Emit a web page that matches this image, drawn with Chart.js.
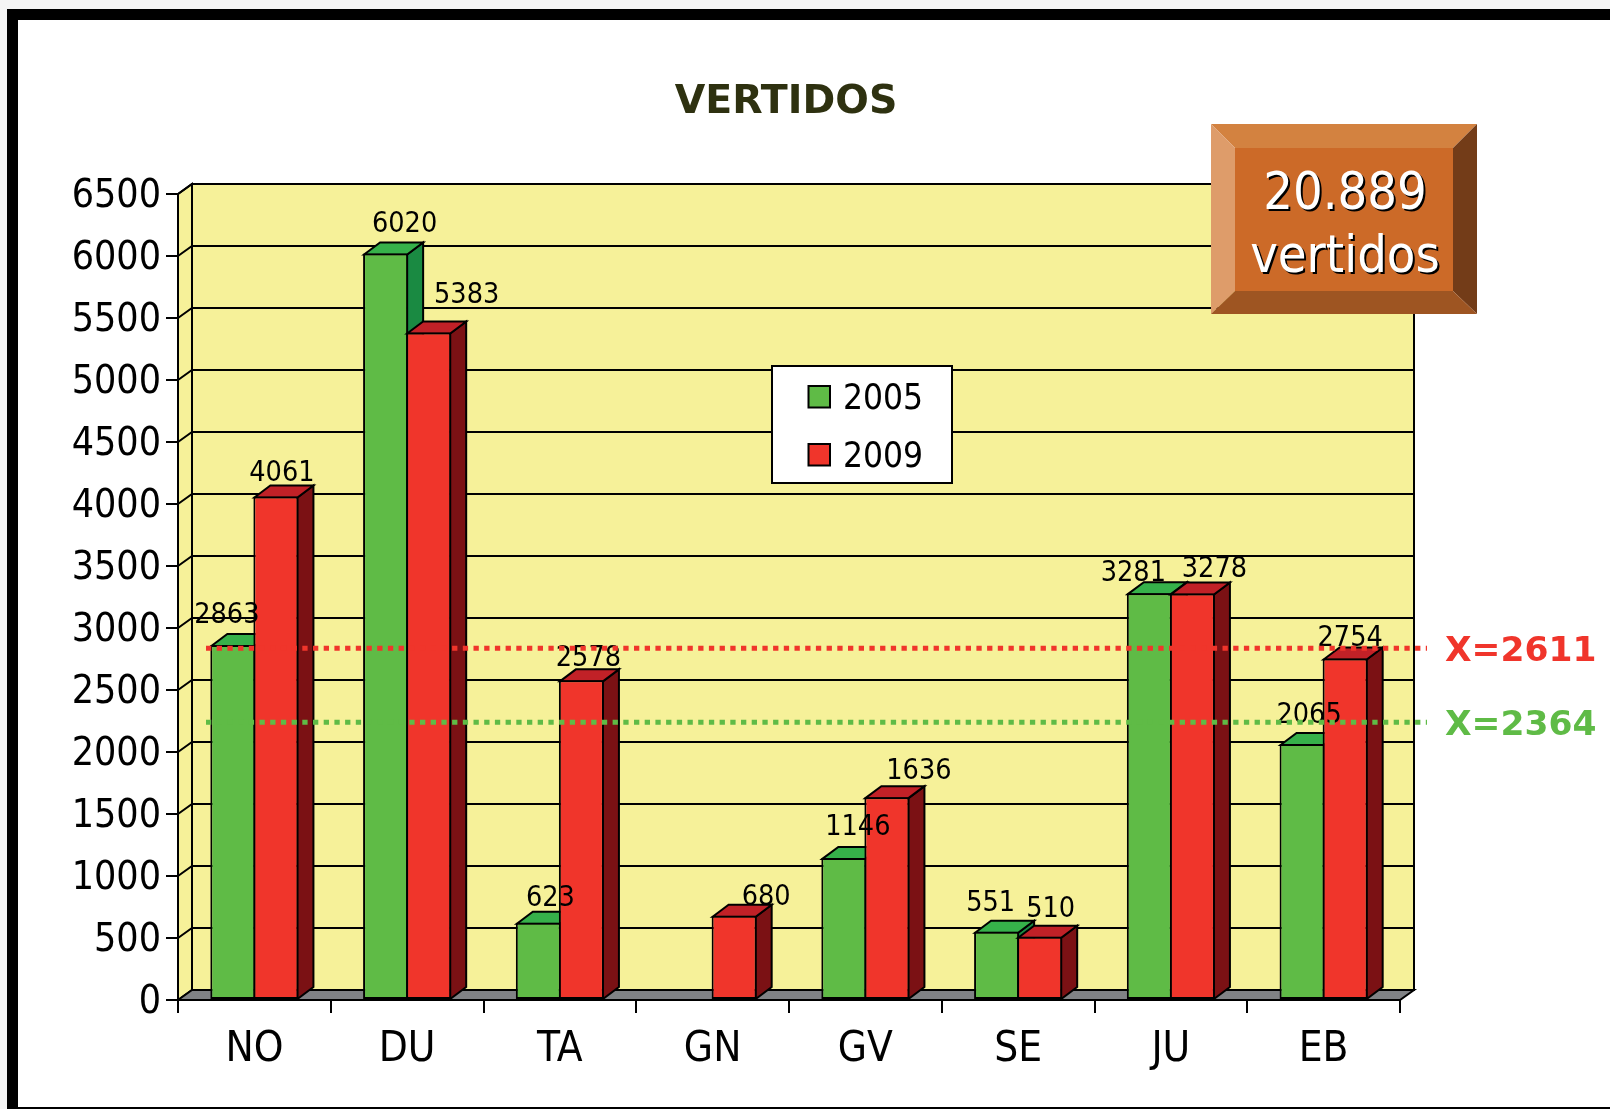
<!DOCTYPE html>
<html lang="es">
<head>
    <meta charset="UTF-8">
    <title>Vertidos</title>
    <script src="https://cdn.jsdelivr.net/npm/chart.js"></script>
    <style>
        html, body { margin: 0; height: 100%; overflow: hidden; background: #f5f5f5; }
        #frame { position: absolute; left: 7px; top: 9px; right: 0; bottom: 0; background: #fff;
                 border-left: 11px solid #000; border-top: 11px solid #000; border-bottom: 2px solid #000; }
        #vertidosChart { position: absolute; left: 0; top: 0; }
    </style>
</head>
<body>
    <div id="frame"></div>
    <canvas id="vertidosChart" width="1610" height="1109"></canvas>

    <script>
        const categories = ['NO', 'DU', 'TA', 'GN', 'GV', 'SE', 'JU', 'EB'];
        const values2005 = [2863, 6020, 623, null, 1146, 551, 3281, 2065];
        const values2009 = [4061, 5383, 2578, 680, 1636, 510, 3278, 2754];

        // dotted lines: where they sit on the value axis, and the text printed next to them
        const lineLevels = [2837, 2240];
        const lineTexts = ['X=2611', 'X=2364'];

        const badgeLines = ['20.889', 'vertidos'];

        // the original places value labels by hand, offsets from the bar top
        const labelDx = [
            [-6, 19, 12, 0, 14, -6, -16, 7],
            [6, 38, 7, 32, 32, 11, 22, 5]
        ];
        const labelAbove = [
            [22, 22, 17, 0, 23, 21, 12, 21],
            [15, 30, 14, 11, 18, 20, 17, 13]
        ];

        const GREEN = '#5fbb46', GREEN_TOP = '#36b14a', GREEN_SIDE = '#1a8a42';
        const RED = '#f0352b', RED_TOP = '#c12127', RED_SIDE = '#7b1114';
        const WALL = '#f6f199', FLOOR = '#808285';
        const BOX_DX = 14, BOX_DY = 10, BAR_DX = 16, BAR_DY = 12;
        const TAHOMA_LIKE = '"DejaVu Sans Condensed", "DejaVu Sans", sans-serif';

        function poly(ctx, pts, fill) {
            ctx.beginPath();
            pts.forEach((p, i) => i ? ctx.lineTo(p[0], p[1]) : ctx.moveTo(p[0], p[1]));
            ctx.closePath();
            if (fill) { ctx.fillStyle = fill; ctx.fill(); }
            ctx.stroke();
        }

        // walls, floor and the back grid of the fake 3D box
        function drawBox(chart) {
            const ctx = chart.ctx, a = chart.chartArea, y = chart.scales.y;
            const DX = BOX_DX, DY = BOX_DY;
            ctx.strokeStyle = '#000';
            ctx.lineWidth = 2;
            poly(ctx, [[a.left + DX, a.top - DY], [a.right + DX, a.top - DY], [a.right + DX, a.bottom - DY], [a.left + DX, a.bottom - DY]], WALL);
            poly(ctx, [[a.left, a.top], [a.left + DX, a.top - DY], [a.left + DX, a.bottom - DY], [a.left, a.bottom]], WALL);
            poly(ctx, [[a.left, a.bottom], [a.left + DX, a.bottom - DY], [a.right + DX, a.bottom - DY], [a.right, a.bottom]], FLOOR);
            y.ticks.forEach(t => {
                const py = y.getPixelForValue(t.value);
                if (t.value === 0) return;
                ctx.beginPath();
                ctx.moveTo(a.left, py);
                ctx.lineTo(a.left + DX, py - DY);
                ctx.lineTo(a.right + DX, py - DY);
                ctx.stroke();
            });
        }

        function drawDepth(chart, index, topColor, sideColor) {
            const ctx = chart.ctx, values = chart.data.datasets[index].data;
            ctx.strokeStyle = '#000';
            ctx.lineWidth = 2;
            chart.getDatasetMeta(index).data.forEach((bar, i) => {
                if (values[i] === null) return;
                const l = bar.x - bar.width / 2 + 1, r = bar.x + bar.width / 2 - 1;
                const t = bar.y + 1, b = bar.base;
                poly(ctx, [[r, t], [r + BAR_DX, t - BAR_DY], [r + BAR_DX, b - BAR_DY], [r, b]], sideColor);
                poly(ctx, [[l, t], [l + BAR_DX, t - BAR_DY], [r + BAR_DX, t - BAR_DY], [r, t]], topColor);
            });
        }

        function drawValueLabels(chart) {
            const ctx = chart.ctx;
            ctx.font = '28.5px ' + TAHOMA_LIKE;
            ctx.fillStyle = '#000';
            ctx.textAlign = 'center';
            ctx.textBaseline = 'alphabetic';
            chart.data.datasets.forEach((ds, d) => {
                chart.getDatasetMeta(d).data.forEach((bar, i) => {
                    if (ds.data[i] === null) return;
                    ctx.fillText(ds.data[i], bar.x + labelDx[d][i], bar.y - labelAbove[d][i]);
                });
            });
        }

        function drawDottedLines(chart) {
            const ctx = chart.ctx, a = chart.chartArea, y = chart.scales.y;
            const colors = [RED, GREEN];
            lineLevels.forEach((level, i) => {
                const py = y.getPixelForValue(level);
                ctx.save();
                ctx.strokeStyle = colors[i];
                ctx.lineWidth = 5;
                ctx.setLineDash([5.3, 5.4]);
                ctx.beginPath();
                ctx.moveTo(a.left + 28, py);
                ctx.lineTo(a.right + 27, py);
                ctx.stroke();
                ctx.restore();
                ctx.font = 'bold 34.5px "DejaVu Sans", sans-serif';
                ctx.fillStyle = colors[i];
                ctx.textAlign = 'left';
                ctx.textBaseline = 'alphabetic';
                ctx.fillText(lineTexts[i], 1445, py + 13);
            });
        }

        function drawLegend(chart) {
            const ctx = chart.ctx;
            ctx.strokeStyle = '#000';
            ctx.lineWidth = 2;
            ctx.fillStyle = '#fff';
            ctx.fillRect(772, 366, 180, 117);
            ctx.strokeRect(772, 366, 180, 117);
            ctx.font = '35px ' + TAHOMA_LIKE;
            ctx.textAlign = 'left';
            ctx.textBaseline = 'alphabetic';
            chart.data.datasets.forEach((ds, i) => {
                const top = 386 + i * 58;
                ctx.fillStyle = ds.backgroundColor;
                ctx.fillRect(808.5, top, 21.5, 21.5);
                ctx.strokeRect(808.5, top, 21.5, 21.5);
                ctx.fillStyle = '#000';
                ctx.fillText(ds.label, 843, top + 23);
            });
        }

        function drawBadge(chart) {
            const ctx = chart.ctx;
            const l = 1211, r = 1477, t = 124, b = 314, il = 1235, ir = 1453, it = 148, ib = 291;
            ctx.save();
            ctx.lineWidth = 0;
            ctx.strokeStyle = 'transparent';
            poly(ctx, [[l, t], [r, t], [ir, it], [il, it]], '#d38240');
            poly(ctx, [[l, t], [il, it], [il, ib], [l, b]], '#de9c6a');
            poly(ctx, [[r, t], [r, b], [ir, ib], [ir, it]], '#733c18');
            poly(ctx, [[l, b], [il, ib], [ir, ib], [r, b]], '#9e5522');
            ctx.fillStyle = '#cc6a28';
            ctx.fillRect(il, it, ir - il, ib - it);
            ctx.font = '52px ' + TAHOMA_LIKE;
            ctx.fillStyle = '#fff';
            ctx.textAlign = 'center';
            ctx.textBaseline = 'alphabetic';
            ctx.shadowColor = '#000';
            ctx.shadowOffsetX = 2;
            ctx.shadowOffsetY = 2;
            ctx.fillText(badgeLines[0], 1345, 209);
            ctx.fillText(badgeLines[1], 1345, 272);
            ctx.restore();
        }

        const box3d = {
            id: 'box3d',
            afterLayout(chart) {
                // title sits a little left of the plot centre in the original
                chart.titleBlock.left -= 3;
                chart.titleBlock.right -= 3;
            },
            beforeDatasetsDraw(chart) {
                drawBox(chart);
                // green goes first so the red front covers its side face
                drawDepth(chart, 0, GREEN_TOP, GREEN_SIDE);
                chart.getDatasetMeta(0).controller.draw();
                drawDepth(chart, 1, RED_TOP, RED_SIDE);
                chart.getDatasetMeta(1).controller.draw();
            },
            beforeDatasetDraw() {
                return false;
            },
            afterDatasetsDraw(chart) {
                drawValueLabels(chart);
                drawDottedLines(chart);
                drawLegend(chart);
                drawBadge(chart);
            }
        };

        new Chart(document.getElementById('vertidosChart').getContext('2d'), {
            type: 'bar',
            data: {
                labels: categories,
                datasets: [
                    { label: '2005', data: values2005, backgroundColor: GREEN },
                    { label: '2009', data: values2009, backgroundColor: RED }
                ]
            },
            options: {
                responsive: false,
                animation: false,
                layout: { padding: { left: 0, top: 0, right: 210, bottom: 0 } },
                datasets: {
                    bar: {
                        categoryPercentage: 0.5636,
                        barPercentage: 1.047,
                        borderColor: '#000',
                        borderWidth: 2,
                        borderSkipped: false
                    }
                },
                plugins: {
                    legend: { display: false },
                    tooltip: { enabled: false },
                    title: {
                        display: true,
                        text: 'VERTIDOS',
                        color: '#2e3110',
                        fullSize: false,
                        font: { family: '"DejaVu Sans", sans-serif', size: 39.5, weight: 'bold' },
                        padding: { top: 79, bottom: 67.6 }
                    }
                },
                scales: {
                    x: {
                        afterFit(s) { s.height = 109; },
                        grid: { color: '#000', lineWidth: 2, drawOnChartArea: false, tickLength: 13 },
                        border: { color: '#000', width: 2 },
                        ticks: { color: '#000', padding: 12, maxRotation: 0, font: { family: TAHOMA_LIKE, size: 42 } }
                    },
                    y: {
                        min: 0,
                        max: 6500,
                        afterFit(s) { s.width = 178; },
                        grid: { color: '#000', lineWidth: 2, drawOnChartArea: false, tickLength: 12 },
                        border: { color: '#000', width: 2 },
                        ticks: {
                            color: '#000',
                            stepSize: 500,
                            padding: 5,
                            labelOffset: 3,
                            font: { family: TAHOMA_LIKE, size: 39 },
                            callback: v => String(v)
                        }
                    }
                }
            },
            plugins: [box3d]
        });
    </script>
</body>
</html>
